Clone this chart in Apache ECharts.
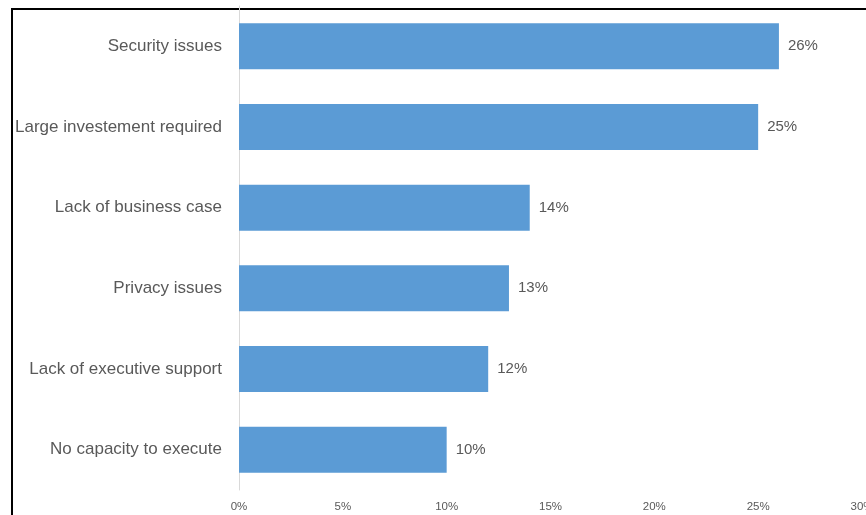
<!DOCTYPE html>
<html>
<head>
<meta charset="utf-8">
<script src="https://cdn.jsdelivr.net/npm/echarts@6/dist/echarts.min.js"></script>
<style>
  html, body { margin: 0; padding: 0; background: #ffffff; }
  #chart { width: 866px; height: 515px; }
</style>
</head>
<body>
<div id="chart"></div>
<script>
// Barriers, listed bottom to top (category axis runs upward)
const categories = [
  'No capacity to execute',
  'Lack of executive support',
  'Privacy issues',
  'Lack of business case',
  'Large investement required',
  'Security issues'
];
const shares = [10, 12, 13, 14, 25, 26];
const tickValues = [0, 5, 10, 15, 20, 25, 30];

const textColor = '#595959';
const fontFamily = '"Liberation Sans", Arial, sans-serif';

const chart = echarts.init(document.getElementById('chart'), null, { renderer: 'canvas' });

chart.setOption({
  animation: false,
  backgroundColor: '#ffffff',
  grid: {
    left: 239, right: 4, top: 6, bottom: 25,
    containLabel: false,
    outerBoundsMode: 'none'
  },
  xAxis: {
    type: 'value',
    min: tickValues[0],
    max: tickValues[tickValues.length - 1],
    interval: 5,
    axisLine: { show: false },
    axisTick: { show: false },
    splitLine: { show: false },
    axisLabel: {
      color: textColor,
      fontFamily: fontFamily,
      fontSize: 11.5,
      margin: 11,
      formatter: v => v + '%'
    }
  },
  yAxis: {
    type: 'category',
    data: categories,
    axisLine: { show: true, lineStyle: { color: '#d9d9d9', width: 1 } },
    axisTick: { show: false },
    axisLabel: {
      color: textColor,
      fontFamily: fontFamily,
      fontSize: 17,
      margin: 17
    }
  },
  series: [{
    type: 'bar',
    data: shares,
    barCategoryGap: '43%',
    itemStyle: { color: '#5b9bd5' },
    label: {
      show: true,
      position: 'right',
      distance: 9,
      color: textColor,
      fontFamily: fontFamily,
      fontSize: 15,
      formatter: p => p.value + '%'
    }
  }],
  graphic: [{
    type: 'polyline',
    silent: true,
    shape: { points: [[12, 515], [12, 9], [866, 9]] },
    style: { stroke: '#000000', lineWidth: 2, fill: null }
  }]
});
</script>
</body>
</html>
